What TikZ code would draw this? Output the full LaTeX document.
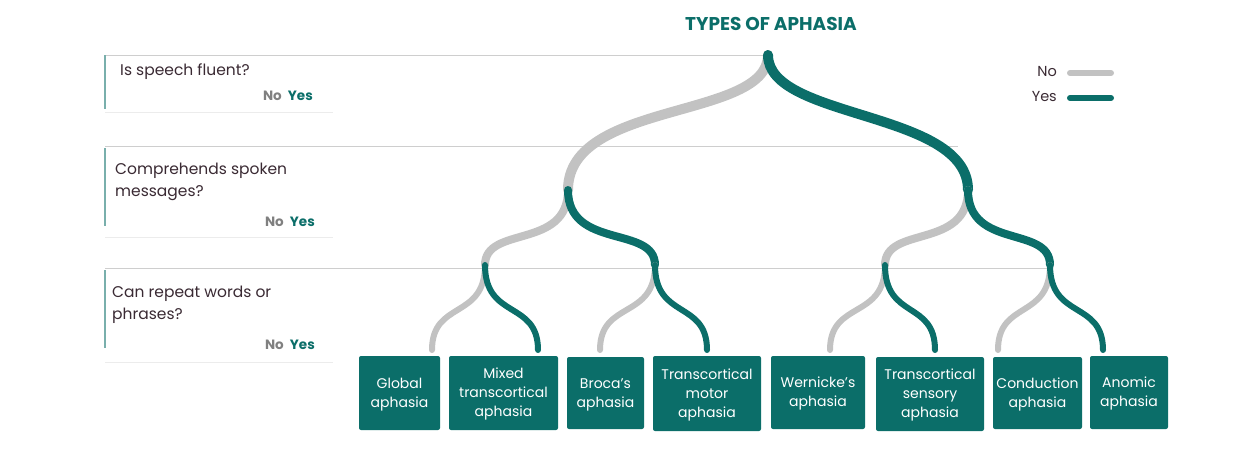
\documentclass[tikz,border=0pt]{standalone}
\usepackage{fontspec}
\setmainfont{Poppins}
\usetikzlibrary{shadows}
\definecolor{teal1}{HTML}{0B6E69}
\definecolor{gr}{HTML}{C2C2C2}
\definecolor{txt}{HTML}{3A2A33}
\begin{document}
\begin{tikzpicture}[x=1pt,y=-1pt,
  leaf/.style={fill=teal1,rounded corners=2pt,text=white,font=\fontsize{14}{19}\selectfont,align=center,inner sep=0pt},
  qbox/.style={fill=white,drop shadow={shadow xshift=0pt,shadow yshift=-1pt,opacity=0.15}},
  guide/.style={gr!80,line width=0.6pt},
  nobr/.style={gr,line width=#1,line cap=round},
  yesbr/.style={teal1,line width=#1,line cap=round},
  qtext/.style={anchor=north west,text=txt,font=\fontsize{15.5}{22}\selectfont,align=left,inner sep=0pt},
  ny/.style={anchor=east,font=\bfseries\fontsize{13.5}{16}\selectfont,inner sep=0pt}]
\useasboundingbox (0,0) rectangle (1243,471);
\node[font=\bfseries\fontsize{18.5}{22}\selectfont,text=teal1] (title) at (771,24) {TYPES OF APHASIA};
\coordinate (r) at (768,55);
\coordinate (a) at (568,190);
\coordinate (b) at (968,190);
\coordinate (aa) at (485,265);
\coordinate (ab) at (655,265);
\coordinate (ba) at (885,265);
\coordinate (bb) at (1050,265);
% question boxes
\fill[qbox] (105,55) rectangle (333,112);
\fill[qbox] (105,146) rectangle (333,237);
\fill[qbox] (105,268) rectangle (333,362);
\draw[guide] (105,55) -- (r);
\draw[guide] (105,146) -- (958,146);
\draw[guide] (105,268) -- (1050,268);
\draw[teal1!55,line width=1.2pt] (105,55) -- (105,109);
\draw[teal1!55,line width=1.2pt] (105,148) -- (105,226);
\draw[teal1!55,line width=1.2pt] (105,270) -- (105,348);
\node[qtext] (q1) at (120,63) {Is speech fluent?};
\node[qtext] (q2) at (115,163) {Comprehends spoken\\messages?};
\node[qtext] (q3) at (112,286) {Can repeat words or\\phrases?};
\node[ny,text=teal1] (y1) at (313,96) {Yes};
\node[ny,text=gray] (n1) at (282,96) {No};
\node[ny,text=teal1] (y2) at (315,222) {Yes};
\node[ny,text=gray] (n2) at (284,222) {No};
\node[ny,text=teal1] (y3) at (315,345) {Yes};
\node[ny,text=gray] (n3) at (284,345) {No};
% legend
\node[anchor=east,text=txt,font=\fontsize{14.5}{17}\selectfont,inner sep=0pt] (ln) at (1057,72) {No};
\node[anchor=east,text=txt,font=\fontsize{14.5}{17}\selectfont,inner sep=0pt] (ly) at (1057,97) {Yes};
\draw[nobr=6pt] (1070,73) -- (1111,73);
\draw[yesbr=6pt] (1070,98) -- (1111,98);
% leaves
\node[leaf,minimum width=81,minimum height=74] (l1) at (399.5,393) {\strut Global\\aphasia};
\node[leaf,minimum width=109,minimum height=74] (l2) at (503.5,393) {\strut Mixed\\transcortical\\aphasia};
\node[leaf,minimum width=77,minimum height=72] (l3) at (605.5,393) {\strut Broca's\\aphasia};
\node[leaf,minimum width=108,minimum height=75] (l4) at (707,393.5) {\strut Transcortical\\motor\\aphasia};
\node[leaf,minimum width=94,minimum height=73] (l5) at (818,392.5) {\strut Wernicke's\\aphasia};
\node[leaf,minimum width=108,minimum height=74] (l6) at (930,394) {\strut Transcortical\\sensory\\aphasia};
\node[leaf,minimum width=89,minimum height=72] (l7) at (1037.5,393) {\strut Conduction\\aphasia};
\node[leaf,minimum width=78,minimum height=73] (l8) at (1129,392.5) {\strut Anomic\\aphasia};
% branches
\draw[nobr=10pt] (r) .. controls (768,120) and (568,100) .. (a);
\draw[yesbr=10pt] (r) .. controls (768,120) and (968,110) .. (b);
\draw[nobr=8pt] (a) .. controls (568,250) and (485,225) .. (aa);
\draw[yesbr=8pt] (a) .. controls (568,250) and (655,225) .. (ab);
\draw[nobr=8pt] (b) .. controls (968,250) and (885,225) .. (ba);
\draw[yesbr=8pt] (b) .. controls (968,250) and (1050,225) .. (bb);
\draw[nobr=6pt] (aa) .. controls (485,320) and (432,300) .. (432,350);
\draw[yesbr=6pt] (aa) .. controls (485,320) and (538,300) .. (538,350);
\draw[nobr=6pt] (ab) .. controls (655,320) and (600,300) .. (600,350);
\draw[yesbr=6pt] (ab) .. controls (655,320) and (707,300) .. (707,350);
\draw[nobr=6pt] (ba) .. controls (885,320) and (830,300) .. (830,350);
\draw[yesbr=6pt] (ba) .. controls (885,320) and (935,300) .. (935,350);
\draw[nobr=6pt] (bb) .. controls (1050,320) and (998,300) .. (998,350);
\draw[yesbr=6pt] (bb) .. controls (1050,320) and (1103,300) .. (1103,350);
\end{tikzpicture}
\end{document}
